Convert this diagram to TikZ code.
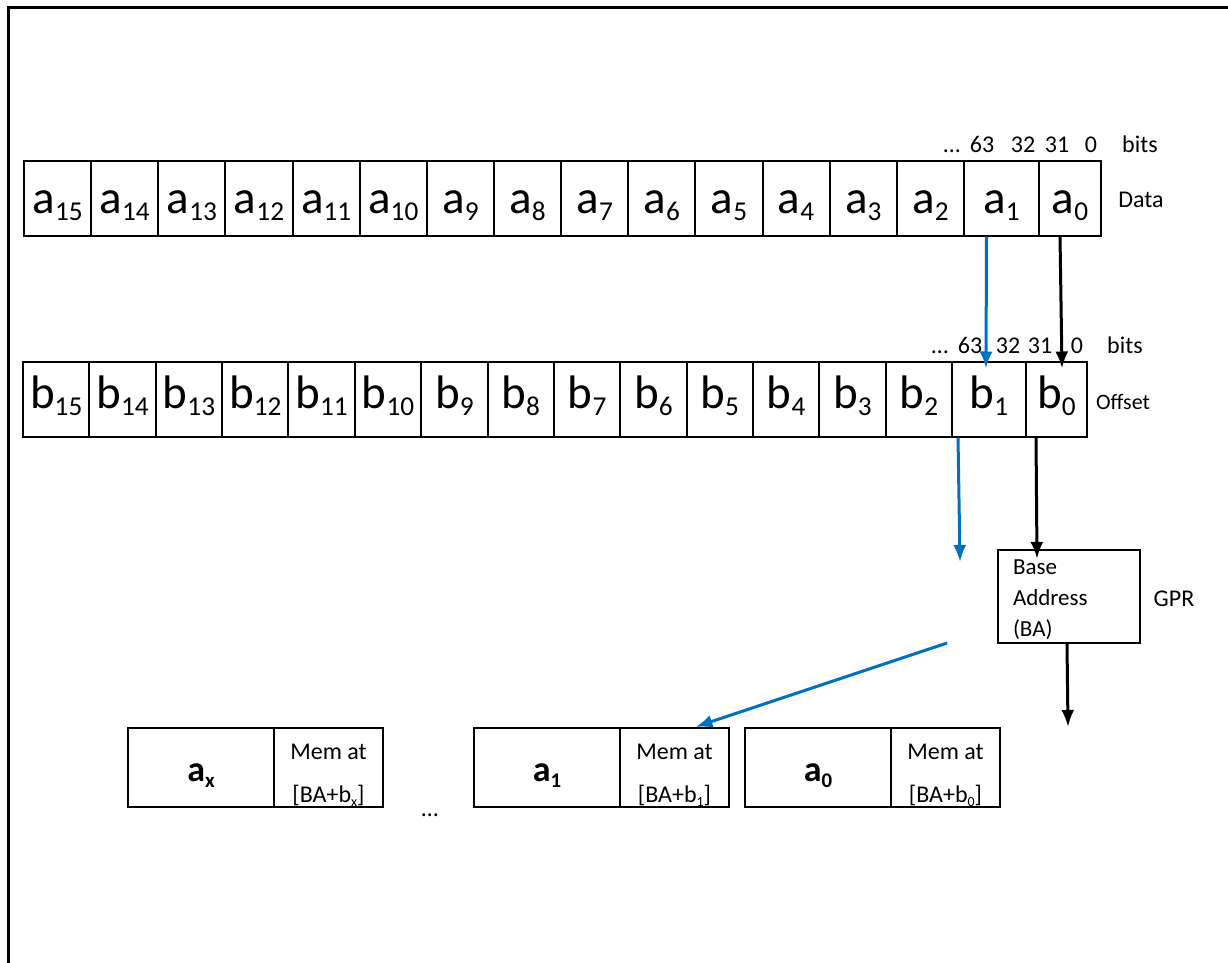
\documentclass[tikz,border=0pt]{standalone}
\usepackage{fontspec}
\setmainfont{Carlito}
\usepackage{tikz}
\usetikzlibrary{arrows.meta, calc}
\definecolor{pfeilblau}{RGB}{0,112,192}
\newcommand{\idx}[1]{\raisebox{-0.17em}{\scalebox{0.58}{#1}}}

\begin{document}
\begin{tikzpicture}[x=1pt, y=-1pt,
		>={Latex[length=17pt,width=13pt]},   %Pfeilspitzen
		zelle/.style={draw, line width=2pt, inner sep=0pt, minimum height=75pt, font=\fontsize{47}{50}\selectfont},
		azelle/.style={zelle, text height=30pt, text depth=0pt},
		bzelle/.style={zelle, text height=26pt, text depth=8pt},
		klein/.style={inner sep=0pt, text height=17pt, text depth=5pt, font=\fontsize{24}{29}\selectfont},
		wert/.style={draw, line width=2.2pt, inner sep=0pt, minimum width=146pt, minimum height=79pt, font=\fontsize{36}{40}\selectfont\bfseries, text height=28pt, text depth=0pt},
		adresse/.style={draw, line width=2.2pt, inner sep=0pt, minimum width=109pt, minimum height=79pt, align=center, font=\fontsize{24}{43}\selectfont},
		schwarz/.style={->, line width=3pt},
		blau/.style={->, line width=3pt, pfeilblau}]
	%Bildbereich und Rahmen
	\useasboundingbox (0,0) rectangle (1228,963);
	\draw[line width=3pt] (1228,8) -- (8,8) -- (8,963);
	%Datenregister
	\foreach \i in {15,14,...,2} {
		\pgfmathsetmacro{\xm}{24+(15-\i)*67.14+33.57}
		\node[azelle, minimum width=67.14pt] (a\i) at (\xm,198) {a\idx{\i}};
	}
	\node[azelle, minimum width=75pt] (a1) at (1001.5,198) {a\idx{1}};
	\node[azelle, minimum width=62pt] (a0) at (1070,198) {a\idx{0}};
	\foreach \x/\t [count=\k] in {952/\ldots, 982/63, 1023/32, 1057/31, 1091/0, 1140/bits}
		\node[klein] (na\k) at (\x,146) {\t};
	\node[klein] (data) at (1141,201) {Data};
	%Offsetregister
	\foreach \i in {15,14,...,2} {
		\pgfmathsetmacro{\xm}{23+(15-\i)*66.36+33.18}
		\node[bzelle, minimum width=66.36pt] (b\i) at (\xm,399) {b\idx{\i}};
	}
	\node[bzelle, minimum width=74pt] (b1) at (989,399) {b\idx{1}};
	\node[bzelle, minimum width=61pt] (b0) at (1056.5,399) {b\idx{0}};
	\foreach \x/\t [count=\k] in {940/\ldots, 970/63, 1008/32, 1040/31, 1077/0, 1125/bits}
		\node[klein] (nb\k) at (\x,347) {\t};
	\node[klein, font=\fontsize{22}{26}\selectfont] (offset) at (1123,403) {Offset};
	%Basisadresse
	\node[draw, line width=2.2pt, minimum width=142pt, minimum height=93pt, inner xsep=15pt, inner ysep=0pt, text width=112pt, align=left, font=\fontsize{23}{31}\selectfont] (ba) at (1069,596.5) {\rule{0pt}{21pt}Base\\Address\\(BA)};
	\node[klein] (gpr) at (1174,600) {GPR};
	%Speicherstellen
	\foreach \x/\n in {128/x, 474/1, 745/0} {
		\node[wert] (w\n) at (\x+73,767.5) {a\idx{\n}};
		\node[adresse] (m\n) at (\x+200.5,767.5) {\rule{0pt}{31pt}Mem at\\{[BA+b\idx{\n}]}};
	}
	\node[klein] (pkt) at (430,810) {\ldots};
	%Pfeile
	\coordinate (bz) at (960,562);
	\coordinate (gz) at (1068,727);
	\coordinate (bs) at (947,643);
	\draw[blau] ($(a1.south)+(-15,0)$) -- ($(b1.north)+(-3,8)$);
	\draw[schwarz] ($(a0.south)+(-10,0)$) -- ($(b0.north)+(5.5,8)$);
	\draw[blau] ($(b1.south)+(-31,0)$) -- (bz);
	\draw[schwarz] ($(b0.south)+(-20.5,0)$) -- ($(ba.north)+(-32,10)$);
	\draw[schwarz] ($(ba.south)+(-2,0)$) -- (gz);
	\draw[blau] (bs) -- ($(m1.north)+(21,0)$);
\end{tikzpicture}
\end{document}
